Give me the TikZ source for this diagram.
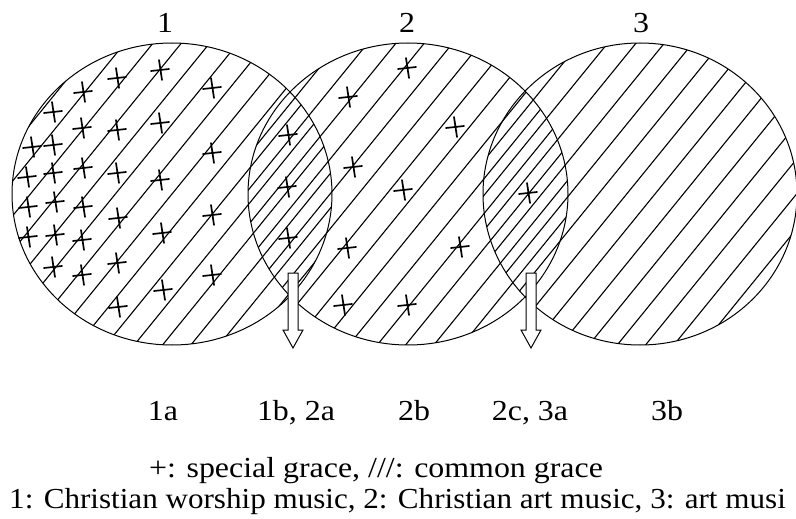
\documentclass[tikz,border=0pt]{standalone}
\usepackage{fontspec}
\setmainfont{Liberation Serif}
\usetikzlibrary{calc}
\tikzset{
  ring/.style={draw,line width=1pt},
  hatch/.style={line width=1.1pt},
  pls/.style={line width=1.7pt,line cap=round},
  harr/.style={draw,fill=white,line width=1pt},
  lbl/.style={font=\fontsize{29}{32}\selectfont,xscale=1.1,inner sep=0pt,anchor=base},
}
\begin{document}
\begin{tikzpicture}[x=1pt,y=-1pt]
  \path[use as bounding box,fill=white] (0,0) rectangle (796,519);
  \coordinate (c1) at (172,194);
  \coordinate (c2) at (408,194);
  \coordinate (c3) at (640,194);
  \foreach \c/\rx/\ph in {c1/160/0,c2/160/7,c3/157/15} {
    \begin{scope}
      \clip (\c) ellipse [x radius=\rx pt,y radius=151pt];
      \foreach \k in {-9,...,9}
        \draw[hatch] ($(\c)+(\k*17.1+\ph,\k*13.8)+(-126,155)$) -- +(252,-310);
    \end{scope}
    \draw[ring] (\c) ellipse [x radius=\rx pt,y radius=151pt];
  }
  \foreach \p in {(117,78),(160,70),(83,92),(212,88),(53,112),(82,128),(117,130),(160,123),
    (32,147),(53,145),(212,153),(27,177),(53,173),(83,168),(117,173),(160,180),(28,207),
    (55,202),(83,207),(118,218),(212,215),(28,237),(55,235),(82,240),(162,233),(53,267),
    (82,275),(117,263),(212,275),(163,290),(118,307),(288,135),(287,187),(288,238),
    (348,97),(407,68),(455,127),(353,167),(403,190),(460,247),(347,248),(343,305),(407,305),
    (528,193)}
    \draw[pls] \p +(-9,1) -- +(9,-1) \p +(-1,-10) -- +(2,10);
  \foreach \x in {293,531}
    \draw[harr] (\x-5,273) -- (\x+5,273) -- (\x+5,330) -- (\x+10,330) -- (\x,348)
      -- (\x-10,330) -- (\x-5,330) -- cycle;
  \node[lbl] (t1) at (165,33) {1};
  \node[lbl] (t2) at (407,33) {2};
  \node[lbl] (t3) at (641,33) {3};
  \node[lbl] (r1a) at (163,420) {1a};
  \node[lbl] (r12) at (296,420) {1b, 2a};
  \node[lbl] (r2b) at (414,420) {2b};
  \node[lbl] (r23) at (530,420) {2c, 3a};
  \node[lbl] (r3b) at (667,420) {3b};
  \node[lbl] (key) at (376,477) {+: special grace, ///: common grace};
  \node[lbl,anchor=base west,xscale=0.975] (names) at (9,508) {1: Christian worship music, 2: Christian art music, 3: art musi};
\end{tikzpicture}
\end{document}
